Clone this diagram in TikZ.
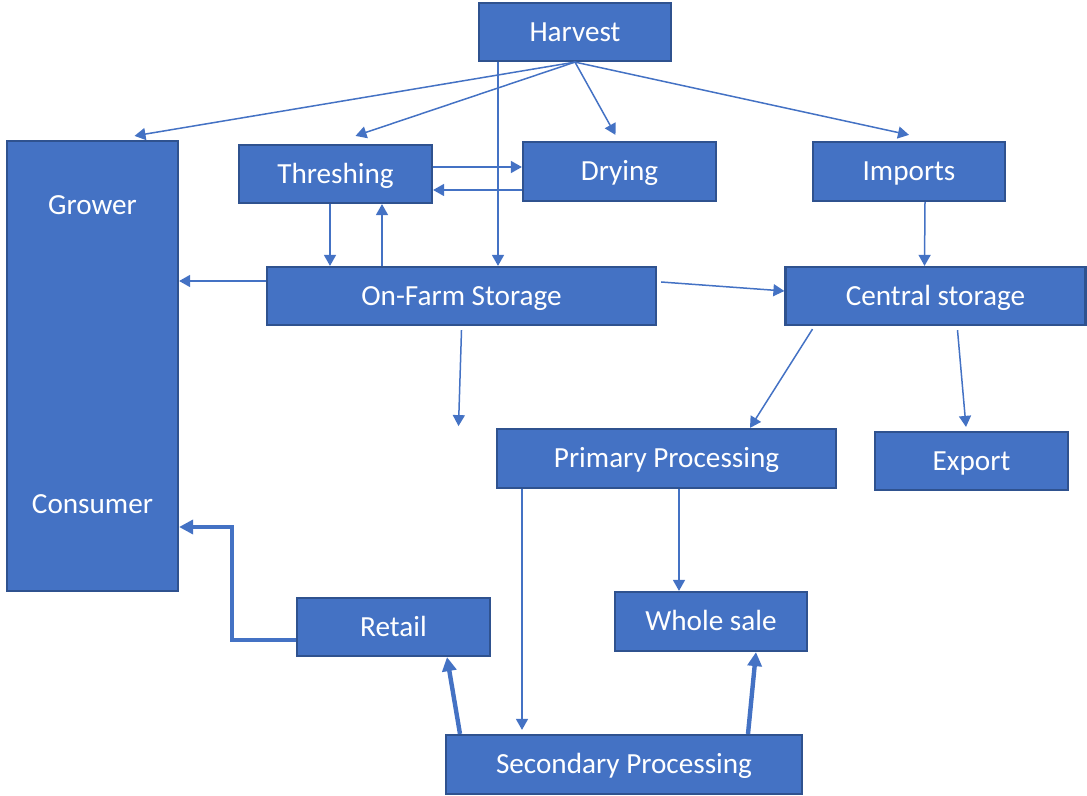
\documentclass[tikz,border=0pt]{standalone}
\usepackage{fontspec}
\setmainfont{Carlito}
\usepackage{tikz}
\usetikzlibrary{arrows.meta,calc}
\definecolor{boxblue}{HTML}{4472C4}
\definecolor{boxedge}{HTML}{2F528F}

\begin{document}
\begin{tikzpicture}[
    x=0.5pt, y=-0.5pt,
    font=\fontsize{14.6}{17}\selectfont,
    chainbox/.style={draw=boxedge, fill=boxblue, line width=1.1pt, text=white, inner sep=0pt, text height=9.2pt, text depth=0pt},
    flow/.style={-{Triangle[length=5.5pt,width=6pt]}, line width=0.75pt, draw=boxblue},
    mainflow/.style={-{Triangle[length=7pt,width=7pt]}, line width=2.2pt, draw=boxblue}
]
\useasboundingbox (0,0) rectangle (1087,796);

\node[chainbox, minimum width=96pt, minimum height=29pt] (harvest) at (575,32) {Harvest};
\node[chainbox, minimum width=85.5pt, minimum height=225pt] (growbox) at (92.5,366) {};
\node[text=white, text height=9.2pt, text depth=0pt] (grower) at (92.5,205) {Grower};
\node[text=white, text height=9.2pt, text depth=0pt] (consumer) at (92.5,504) {Consumer};
\node[chainbox, minimum width=96.5pt, minimum height=29pt] (threshing) at (335.5,174) {Threshing};
\node[chainbox, minimum width=96.5pt, minimum height=29.5pt] (drying) at (619.5,171.5) {Drying};
\node[chainbox, minimum width=96pt, minimum height=29.5pt] (imports) at (909,171.5) {Imports};
\node[chainbox, minimum width=194.5pt, minimum height=29pt] (onfarm) at (461.5,296) {On-Farm Storage};
\node[chainbox, minimum width=150pt, minimum height=29pt] (central) at (935.5,296) {Central storage};
\node[chainbox, minimum width=169.5pt, minimum height=29.5pt] (primary) at (666.5,458.5) {Primary Processing};
\node[chainbox, minimum width=96.5pt, minimum height=29pt] (export) at (971.5,461) {Export};
\node[chainbox, minimum width=96.5pt, minimum height=29pt] (retail) at (393.5,627) {Retail};
\node[chainbox, minimum width=96pt, minimum height=29.5pt] (wholesale) at (711,621.5) {Whole sale};
\node[chainbox, minimum width=178pt, minimum height=29.5pt] (secondary) at (624,764.5) {Secondary Processing};

% from harvest
\draw[flow] (harvest.south) -- ([xshift=21pt,yshift=2pt]growbox.north);
\draw[flow] (harvest.south) -- ([xshift=10pt,yshift=4pt]threshing.north);
\draw[flow] (harvest.south) -- ([xshift=-2pt,yshift=3pt]drying.north);
\draw[flow] (harvest.south) -- ([yshift=3pt]imports.north);
\coordinate (hs) at ([xshift=-38.5pt]harvest.south);
\draw[flow] (hs) -- (hs |- onfarm.north);

% threshing, drying, on-farm storage
\draw[flow] ([yshift=3.5pt]threshing.east) -- ([yshift=2.25pt]drying.west);
\draw[flow] ([yshift=-9.25pt]drying.west) -- ([yshift=-8pt]threshing.east);
\draw[flow] ([xshift=-2.75pt]threshing.south) -- ([xshift=-65.75pt]onfarm.north);
\draw[flow] ([xshift=-39.75pt]onfarm.north) -- ([xshift=23.25pt]threshing.south);
\draw[flow] ([yshift=7.5pt]onfarm.west) -- ([yshift=42.5pt]growbox.east);
\draw[flow] ([xshift=2pt,yshift=7pt]onfarm.east) -- ([yshift=2.5pt]central.west);
\coordinate (loose) at ([xshift=-1.5pt,yshift=-50pt]onfarm.south);
\draw[flow] ([yshift=-2pt]onfarm.south) -- (loose);

% imports and central storage
\draw[flow] ([xshift=8pt]imports.south) -- ([xshift=-5.5pt]central.north);
\draw[flow] ([xshift=-61.5pt,yshift=-1.5pt]central.south) -- ([xshift=41.75pt]primary.north);
\draw[flow] ([xshift=11pt,yshift=-2pt]central.south) -- ([xshift=-2.75pt,yshift=2pt]export.north);

% processing
\draw[flow] ([xshift=-72.25pt]primary.south) -- ([xshift=-51pt,yshift=2pt]secondary.north);
\draw[flow] ([xshift=6.25pt]primary.south) -- ([xshift=-16pt]wholesale.north);
\draw[mainflow] ([xshift=-82pt]secondary.north) -- ([xshift=26.75pt]retail.south);
\draw[mainflow] ([xshift=62pt]secondary.north) -- ([xshift=22.5pt]wholesale.south);
\draw[mainflow] ([yshift=-6.5pt]retail.west) -- ++(-32pt,0) |- ([yshift=-80.5pt]growbox.east);
\end{tikzpicture}
\end{document}
